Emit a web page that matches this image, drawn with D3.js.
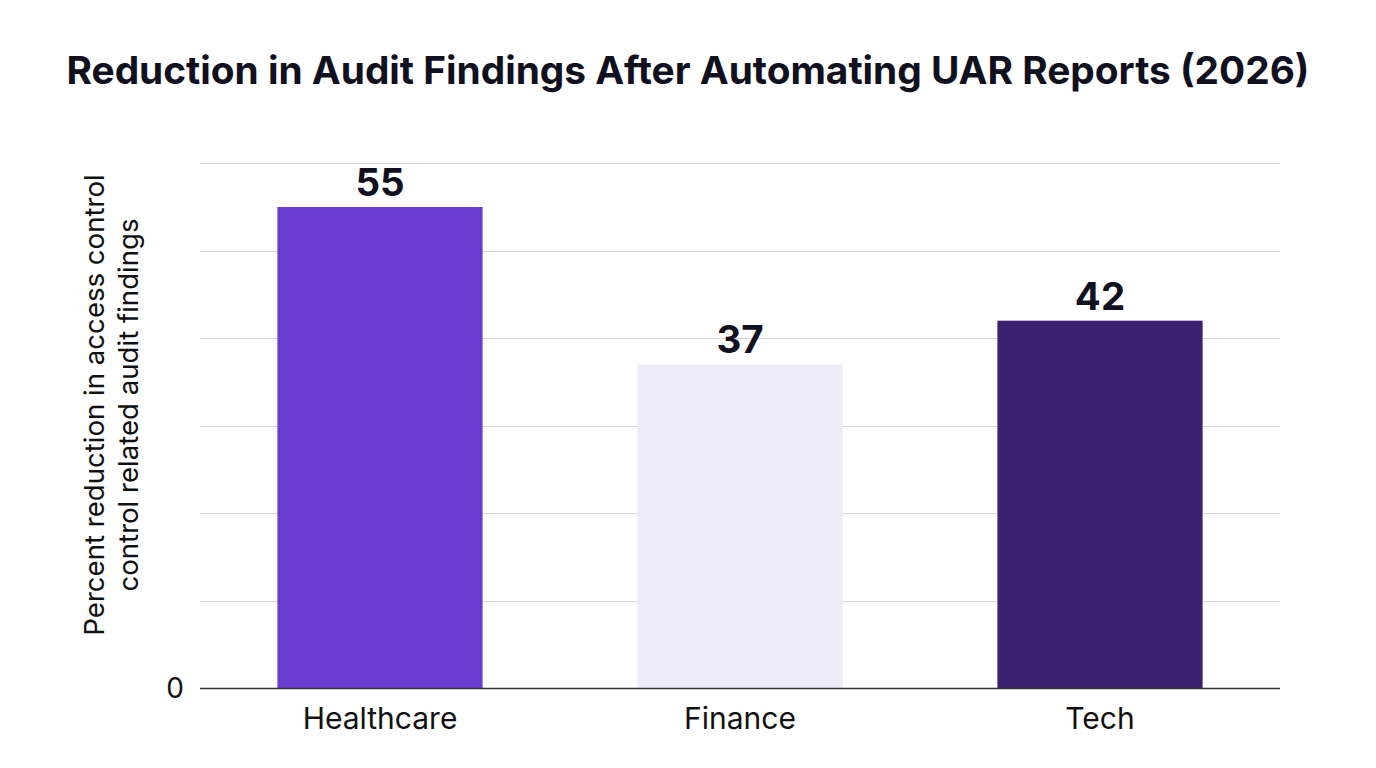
<!DOCTYPE html>
<html><head><meta charset="utf-8">
<script src="https://cdn.jsdelivr.net/npm/d3@7"></script>
<style>body{margin:0;background:#fff;}</style>
</head><body>
<svg id="chart" width="1376" height="768"></svg>
<script>
const categories = ["Healthcare", "Finance", "Tech"];
const values = [55, 37, 42];
const barColors = ["#6a3bcf", "#eeebf9", "#3e2070"];
const yTicks = [0, 10, 20, 30, 40, 50, 60];
const yTickLabels = ["0"];
const titleText = "Reduction in Audit Findings After Automating UAR Reports (2026)";
const yLabelLines = ["Percent reduction in access control", "control related audit findings"];

const svg = d3.select("#chart");
const font = "Inter, 'Noto Sans', sans-serif";
const m = {left: 200, right: 1280, top: 162, bottom: 688};

const x = d3.scaleBand().domain(categories).range([m.left, m.right]).paddingInner(0.43).paddingOuter(0.215);
const y = d3.scaleLinear().domain([0, 60]).range([m.bottom, m.top + 1.3]);

svg.append("text").attr("x", 688).attr("y", 84).attr("text-anchor", "middle")
  .attr("font-family", font).attr("font-weight", 700).attr("font-size", 38.8)
  .attr("fill", "#10101f").text(titleText);

// gridlines
svg.append("g").selectAll("line").data(yTicks.filter(d => d > 0)).join("line")
  .attr("x1", m.left).attr("x2", m.right)
  .attr("y1", d => Math.round(y(d)) + 0.5).attr("y2", d => Math.round(y(d)) + 0.5)
  .attr("stroke", "#d6d6d6").attr("stroke-width", 1);

// bars
svg.append("g").selectAll("rect").data(values).join("rect")
  .attr("x", (d, i) => x(categories[i])).attr("width", x.bandwidth())
  .attr("y", d => y(d)).attr("height", d => y(0) - y(d))
  .attr("fill", (d, i) => barColors[i]);

// baseline
svg.append("line").attr("x1", m.left).attr("x2", m.right)
  .attr("y1", y(0) + 0.5).attr("y2", y(0) + 0.5).attr("stroke", "#333").attr("stroke-width", 1.3);

// y tick label
svg.append("g").selectAll("text").data(yTickLabels).join("text")
  .attr("x", 184).attr("y", y(+yTickLabels[0])).attr("dy", "0.35em").attr("text-anchor", "end")
  .attr("font-family", font).attr("font-size", 28).attr("fill", "#111").text(d => d);

// x labels
svg.append("g").selectAll("text").data(categories).join("text")
  .attr("x", d => x(d) + x.bandwidth() / 2).attr("y", 729).attr("text-anchor", "middle")
  .attr("font-family", font).attr("font-size", 30).attr("fill", "#111").text(d => d);

// value labels
svg.append("g").selectAll("text").data(values).join("text")
  .attr("x", (d, i) => x(categories[i]) + x.bandwidth() / 2).attr("y", d => y(d) - 11)
  .attr("text-anchor", "middle").attr("font-family", font).attr("font-weight", 700)
  .attr("font-size", 38.5).attr("fill", "#10101f").text(d => d);

// y axis label
const yl = svg.append("text").attr("transform", "translate(104,405) rotate(-90)")
  .attr("text-anchor", "middle").attr("font-family", font).attr("font-size", 27.6).attr("fill", "#111");
yLabelLines.forEach((t, i) => yl.append("tspan").attr("x", 0).attr("dy", i === 0 ? 0 : 34).text(t));
</script>
</body></html>
